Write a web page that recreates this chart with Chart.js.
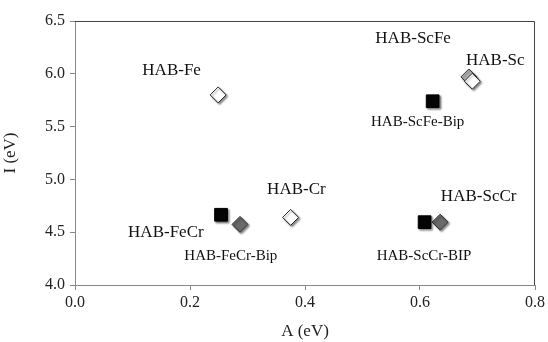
<!DOCTYPE html>
<html>
<head>
<meta charset="utf-8">
<script src="https://cdn.jsdelivr.net/npm/chart.js@4.4.0/dist/chart.umd.min.js"></script>
<style>
  html, body { margin: 0; padding: 0; background: #fff; }
  #wrap { width: 548px; height: 342px; }
</style>
</head>
<body>
<div id="wrap"><canvas id="chart" width="548" height="342"></canvas></div>
<script>
// A (eV) / I (eV)
const openX = [0.249, 0.375, 0.691];
const openY = [5.80, 4.64, 5.93];
const lightX = [0.685];
const lightY = [5.97];
const squareX = [0.254, 0.622, 0.608];
const squareY = [4.665, 5.74, 4.595];
const darkX = [0.287, 0.635];
const darkY = [4.574, 4.595];

const xTicks = [0.0, 0.2, 0.4, 0.6, 0.8];
const yTicks = [4.0, 4.5, 5.0, 5.5, 6.0, 6.5];

// text labels placed in data units
const labelText = ['HAB-ScFe', 'HAB-Sc', 'HAB-Fe', 'HAB-ScFe-Bip', 'HAB-Cr', 'HAB-ScCr', 'HAB-FeCr', 'HAB-FeCr-Bip', 'HAB-ScCr-BIP'];
const labelX = [0.588, 0.731, 0.168, 0.596, 0.385, 0.702, 0.158, 0.271, 0.607];
const labelY = [6.33, 6.13, 6.03, 5.54, 4.90, 4.84, 4.50, 4.27, 4.27];
const labelBig = [true, true, true, false, true, true, true, false, false];

const serif = '"Liberation Serif", "DejaVu Serif", serif';

function pts(xs, ys) {
  return xs.map((x, i) => ({ x: x, y: ys[i] }));
}

const shadowPlugin = {
  id: 'shadow',
  beforeDatasetsDraw(chart) {
    const ctx = chart.ctx;
    ctx.save();
    ctx.shadowColor = 'rgba(0,0,0,0.45)';
    ctx.shadowBlur = 2;
    ctx.shadowOffsetX = 1.5;
    ctx.shadowOffsetY = 1.5;
  },
  afterDatasetsDraw(chart) {
    chart.ctx.restore();
  }
};

const framePlugin = {
  id: 'frame',
  afterDraw(chart) {
    const ctx = chart.ctx;
    const a = chart.chartArea;
    ctx.save();
    ctx.strokeStyle = '#444';
    ctx.lineWidth = 1;
    ctx.beginPath();
    ctx.moveTo(a.left, a.top + 0.5);
    ctx.lineTo(a.right - 0.5, a.top + 0.5);
    ctx.lineTo(a.right - 0.5, a.bottom);
    ctx.stroke();

    const xs = chart.scales.x, ys = chart.scales.y;
    ctx.fillStyle = '#111';
    ctx.textAlign = 'center';
    ctx.textBaseline = 'middle';
    labelText.forEach((t, i) => {
      ctx.font = (labelBig[i] ? '17px ' : '15px ') + serif;
      ctx.fillText(t, xs.getPixelForValue(labelX[i]), ys.getPixelForValue(labelY[i]));
    });
    ctx.restore();
  }
};

new Chart(document.getElementById('chart'), {
  type: 'scatter',
  data: {
    datasets: [
      {
        label: 'open',
        data: pts(openX, openY),
        pointStyle: 'rectRot',
        pointRadius: 8,
        backgroundColor: '#ffffff',
        borderColor: '#222',
        borderWidth: 1
      },
      {
        label: 'light',
        data: pts(lightX, lightY),
        pointStyle: 'rectRot',
        pointRadius: 8,
        backgroundColor: '#b3b3b3',
        borderColor: '#333',
        borderWidth: 1
      },
      {
        label: 'square',
        data: pts(squareX, squareY),
        pointStyle: 'rect',
        pointRadius: 9,
        backgroundColor: '#050505',
        borderColor: '#000',
        borderWidth: 1
      },
      {
        label: 'dark',
        data: pts(darkX, darkY),
        pointStyle: 'rectRot',
        pointRadius: 8,
        backgroundColor: '#6a6a6a',
        borderColor: '#333',
        borderWidth: 1
      }
    ]
  },
  options: {
    responsive: false,
    animation: false,
    layout: { padding: { top: 21, right: 12, left: 0, bottom: 0 } },
    plugins: {
      legend: { display: false },
      tooltip: { enabled: false }
    },
    scales: {
      x: {
        type: 'linear',
        min: 0,
        max: 0.8,
        afterBuildTicks(axis) { axis.ticks = xTicks.map(v => ({ value: v })); },
        afterFit(axis) { axis.height = 57; },
        grid: { drawOnChartArea: false, drawTicks: true, tickLength: 5, color: '#888' },
        border: { color: '#888' },
        ticks: {
          color: '#222',
          font: { family: serif, size: 16 },
          padding: 3,
          maxRotation: 0,
          callback: v => v.toFixed(1)
        },
        title: {
          display: true,
          text: 'A (eV)',
          color: '#222',
          font: { family: serif, size: 17 },
          padding: { top: 4, bottom: 0 }
        }
      },
      y: {
        type: 'linear',
        min: 4.0,
        max: 6.5,
        afterBuildTicks(axis) { axis.ticks = yTicks.map(v => ({ value: v })); },
        afterFit(axis) { axis.width = 75; },
        grid: { drawOnChartArea: false, drawTicks: true, tickLength: 5, color: '#888' },
        border: { color: '#888' },
        ticks: {
          color: '#222',
          font: { family: serif, size: 16 },
          padding: 5,
          callback: v => v.toFixed(1)
        },
        title: {
          display: true,
          text: 'I (eV)',
          color: '#222',
          font: { family: serif, size: 17 },
          padding: { top: 0, bottom: 4 }
        }
      }
    }
  },
  plugins: [shadowPlugin, framePlugin]
});
</script>
</body>
</html>
